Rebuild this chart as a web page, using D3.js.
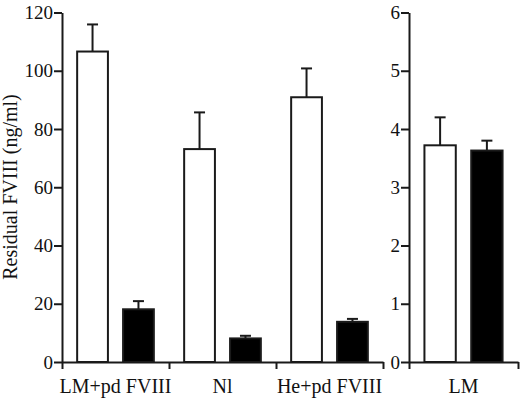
<html>
<head>
<script src="https://d3js.org/d3.v7.min.js"></script>
<style>
  body { margin: 0; background: #fff; }
  svg { display: block; }
  .tick text, .lbl { font-family: "Liberation Serif", "Times New Roman", serif; fill: #111; }
  .domain, .tick line { stroke: #1a1a1a; stroke-width: 2; }
</style>
</head>
<body>
<script>
// ---- data ----
var groups     = ["LM+pd FVIII", "Nl", "He+pd FVIII"];
var openVals   = [106.6, 73.1, 90.9];
var openErr    = [9.3, 12.6, 9.9];
var filledVals = [18.1, 8.1, 13.8];
var filledErr  = [2.8, 0.9, 1.0];

var rightGroup   = ["LM"];
var rightOpen    = [3.72];
var rightOpenErr = [0.48];
var rightFill    = [3.63];
var rightFillErr = [0.17];

var leftTicks  = [0, 20, 40, 60, 80, 100, 120];
var rightTicks = [0, 1, 2, 3, 4, 5, 6];
var series = ["open", "filled"];

var W = 520, H = 399;
var svg = d3.select("body").append("svg").attr("width", W).attr("height", H);

function panel(cats, openV, openE, fillV, fillE, ticks, yMax, x0, x1) {
  var g = svg.append("g");
  var y = d3.scaleLinear().domain([0, yMax]).range([362, 12.5]);
  var xg = d3.scaleBand().domain(cats).range([x0, x1]);
  var xs = d3.scaleBand().domain(series).range([0, xg.bandwidth()]).padding(0.33);
  var xb = d3.scaleLinear().domain([0, cats.length]).range([x0, x1]);

  var rows = cats.map(function (c, i) {
    return [
      { cat: c, s: "open", v: openV[i], e: openE[i] },
      { cat: c, s: "filled", v: fillV[i], e: fillE[i] }
    ];
  }).flat();

  // error bars (upward only)
  var eb = g.selectAll(".err").data(rows).enter().append("g").attr("class", "err")
    .attr("transform", function (d) { return "translate(" + (xg(d.cat) + xs(d.s) + xs.bandwidth() / 2) + ",0)"; });
  eb.append("line").attr("x1", 0).attr("x2", 0)
    .attr("y1", function (d) { return y(d.v); })
    .attr("y2", function (d) { return y(d.v + d.e); })
    .attr("stroke", "#1a1a1a").attr("stroke-width", 2);
  eb.append("line").attr("x1", -5.5).attr("x2", 5.5)
    .attr("y1", function (d) { return y(d.v + d.e); })
    .attr("y2", function (d) { return y(d.v + d.e); })
    .attr("stroke", "#1a1a1a").attr("stroke-width", 2);

  g.selectAll(".bar").data(rows).enter().append("rect").attr("class", "bar")
    .attr("x", function (d) { return xg(d.cat) + xs(d.s); })
    .attr("width", xs.bandwidth())
    .attr("y", function (d) { return y(d.v); })
    .attr("height", function (d) { return y(0) - y(d.v); })
    .attr("fill", function (d) { return d.s == "open" ? "#fff" : "#000"; })
    .attr("stroke", "#1a1a1a").attr("stroke-width", 2);

  // y axis
  g.append("g").attr("transform", "translate(" + x0 + ",0)")
    .call(d3.axisLeft(y).tickValues(ticks).tickFormat(d3.format("d")).tickSize(8).tickSizeOuter(0).tickPadding(1))
    .call(function (a) { a.selectAll("text").style("font-size", "19px"); });

  // x axis: ticks on group boundaries
  g.append("g").attr("transform", "translate(0,362)")
    .call(d3.axisBottom(xb).tickValues(d3.range(cats.length + 1)).tickSize(7).tickSizeOuter(0).tickFormat(""));

  g.selectAll(".lbl").data(cats).enter().append("text").attr("class", "lbl")
    .attr("x", function (d) { return xg(d) + xg.bandwidth() / 2; })
    .attr("y", 393)
    .attr("text-anchor", "middle")
    .style("font-size", "20px")
    .text(function (d) { return d; });
}

panel(groups, openVals, openErr, filledVals, filledErr, leftTicks, 120, 62, 383);
panel(rightGroup, rightOpen, rightOpenErr, rightFill, rightFillErr, rightTicks, 6, 409, 518);

svg.append("text").attr("class", "lbl")
  .attr("transform", "translate(17,187) rotate(-90)")
  .attr("text-anchor", "middle")
  .style("font-size", "20px")
  .text("Residual FVIII (ng/ml)");
</script>
</body>
</html>
